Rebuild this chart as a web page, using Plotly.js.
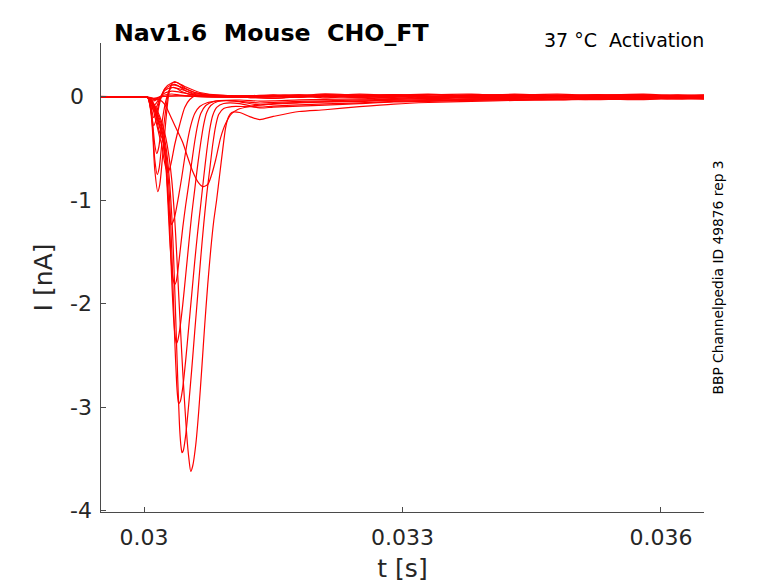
<!DOCTYPE html>
<html>
<head>
<meta charset="utf-8">
<script src="https://cdn.plot.ly/plotly-3.0.1.min.js"></script>
<style>
  html, body { margin: 0; padding: 0; background: #fff; }
  #plot { width: 778px; height: 583px; }
</style>
</head>
<body>
<div id="plot"></div>
<script>
// Sweeps: time in ms, current in nA
// shared tail times (the slow part after ~31.4 ms)
const TAIL_MS = [31.5, 31.8, 32.1, 32.5, 32.9, 33.3, 33.8, 34.3, 34.8, 35.3, 35.8, 36.2, 36.5];

// 1. sub-threshold sweeps
const f_t = [29.5, 29.75, 30.0, 30.043, 30.078, 30.112, 30.147, 30.2, 30.4, 30.8, 31.2];
const f1_i = [0.004, -0.003, 0.0, -0.003, -0.008, -0.015, -0.01, 0.003, 0.008, 0.0, 0.005];
const f1_tail = [0.015, -0.005, 0.012, 0.0, 0.018, -0.008, 0.01, 0.0, 0.014, -0.012, 0.006, 0.012, 0.0];
const f2_i = [-0.005, 0.003, -0.003, -0.005, -0.012, -0.024, -0.016, 0.0, 0.01, 0.005, -0.005];
const f2_tail = [-0.015, 0.005, -0.01, 0.01, -0.015, 0.005, -0.01, 0.01, -0.01, 0.005, -0.015, 0.0, 0.005];

// 2. sweeps with a small dip and an outward bump
const u_t = [29.5, 29.75, 30.0, 30.043, 30.078, 30.112, 30.147, 30.182, 30.24, 30.321, 30.414, 30.588, 30.878, 31.2];
const u1_i = [0.0, 0.003, 0.0, -0.005, -0.017, -0.04, -0.026, 0.0, 0.017, 0.027, 0.017, 0.003, -0.002, 0.005];
const u1_tail = [0.005, 0.015, 0.0, 0.012, 0.02, 0.0, 0.015, -0.005, 0.01, 0.018, 0.0, 0.008, 0.014];
const u2_i = [-0.003, 0.0, 0.0, -0.005, -0.036, -0.085, -0.055, -0.007, 0.036, 0.055, 0.046, 0.017, 0.003, 0.0];
const u2_tail = [0.0, 0.01, 0.018, 0.0, 0.008, 0.022, 0.004, 0.0, 0.015, 0.005, -0.008, 0.012, 0.0];
const u3_i = [0.002, -0.002, 0.0, -0.006, -0.065, -0.132, -0.094, -0.017, 0.061, 0.09, 0.075, 0.032, 0.008, 0.01];
const u3_tail = [0.012, 0.02, 0.005, 0.025, 0.01, 0.004, 0.018, 0.02, 0.004, 0.01, 0.018, 0.004, 0.012];
const u4_i = [0.0, 0.002, 0.0, -0.006, -0.084, -0.2, -0.142, -0.036, 0.071, 0.114, 0.099, 0.042, 0.013, 0.005];
const u4_tail = [0.014, 0.0, 0.02, 0.005, -0.006, 0.015, 0.025, 0.004, 0.016, 0.0, 0.01, 0.015, 0.004];
const u5_t = [29.5, 29.75, 30.0, 30.043, 30.078, 30.112, 30.147, 30.182, 30.24, 30.321, 30.379, 30.472, 30.646, 30.936, 31.2];
const u5_i = [0.002, 0.0, 0.0, -0.007, -0.123, -0.278, -0.2, -0.055, 0.08, 0.133, 0.138, 0.1, 0.042, 0.013, 0.01];
const u5_tail = [0.02, 0.012, 0.028, 0.015, 0.005, 0.02, 0.01, 0.025, 0.012, 0.02, 0.004, 0.015, 0.018];

// 3. sweeps with a deep early dip then outward bump
const v1_t = [29.5, 29.75, 30.0, 30.043, 30.078, 30.101, 30.124, 30.147, 30.17, 30.194, 30.228, 30.263, 30.298, 30.333, 30.379, 30.437, 30.53, 30.646, 30.82, 31.2];
const v1_i = [0.0, -0.003, 0.0, -0.007, -0.103, -0.268, -0.461, -0.548, -0.49, -0.336, -0.142, -0.007, 0.071, 0.09, 0.08, 0.051, 0.022, 0.008, -0.002, 0.005];
const v1_tail = [0.0, 0.012, 0.004, 0.018, 0.006, -0.006, 0.02, 0.006, 0.0, 0.014, 0.02, 0.0, 0.008];
const v2_t = [29.5, 29.75, 30.0, 30.043, 30.078, 30.101, 30.124, 30.153, 30.176, 30.205, 30.24, 30.275, 30.31, 30.344, 30.391, 30.46, 30.553, 30.704, 30.878, 31.2];
const v2_i = [0.003, 0.0, 0.0, -0.007, -0.123, -0.316, -0.606, -0.751, -0.684, -0.461, -0.2, 0.003, 0.1, 0.119, 0.109, 0.071, 0.032, 0.008, -0.002, 0.008];
const v2_tail = [0.01, 0.0, 0.018, 0.004, 0.022, 0.006, 0.0, 0.014, 0.025, 0.006, 0.012, 0.018, 0.004];
const v3_t = [29.5, 29.75, 30.0, 30.043, 30.078, 30.101, 30.124, 30.159, 30.182, 30.217, 30.252, 30.286, 30.321, 30.356, 30.402, 30.484, 30.588, 30.762, 30.994, 31.2];
const v3_i = [-0.002, 0.002, 0.0, -0.007, -0.142, -0.365, -0.703, -0.916, -0.848, -0.558, -0.239, 0.022, 0.128, 0.148, 0.128, 0.08, 0.042, 0.013, -0.002, 0.0];
const v3_tail = [0.004, 0.02, 0.006, -0.006, 0.014, 0.025, 0.004, 0.018, 0.004, 0.016, 0.026, 0.008, 0.014];

// 4. medium sweep, peak ~ -0.73 nA
const m_t = [29.5, 29.75, 30.0, 30.043, 30.078, 30.112, 30.147, 30.182, 30.205, 30.228, 30.252, 30.278, 30.31, 30.356, 30.414, 30.472, 30.53, 30.6, 30.704, 30.878, 31.2];
const m_i = [0.0, 0.002, 0.0, -0.007, -0.045, -0.142, -0.268, -0.394, -0.461, -0.587, -0.684, -0.732, -0.655, -0.461, -0.268, -0.103, -0.026, 0.013, 0.013, 0.003, -0.005];
const m_tail = [-0.015, 0.0, 0.008, -0.008, 0.012, 0.0, -0.008, 0.012, 0.005, -0.004, 0.012, -0.008, 0.005];

// 5. threshold sweep, late broad peak
const t1_t = [29.5, 29.75, 30.0, 30.078, 30.124, 30.182, 30.24, 30.298, 30.368, 30.449, 30.507, 30.565, 30.623, 30.681, 30.739, 30.785, 30.832, 30.889, 30.947, 31.017, 31.087, 31.226];
const t1_i = [0.002, -0.002, -0.002, -0.015, -0.025, -0.03, -0.074, -0.171, -0.297, -0.442, -0.587, -0.722, -0.819, -0.867, -0.848, -0.751, -0.606, -0.394, -0.258, -0.162, -0.123, -0.094];
const t1_tail = [-0.065, -0.055, -0.05, -0.04, -0.032, -0.028, -0.02, -0.018, -0.024, -0.01, -0.018, -0.005, -0.012];

// 6. large sweeps
const d1_t = [29.5, 29.75, 30.0, 30.043, 30.078, 30.112, 30.147, 30.17, 30.194, 30.217, 30.24, 30.263, 30.286, 30.304, 30.318, 30.333, 30.356, 30.379, 30.402, 30.437, 30.472, 30.507, 30.542, 30.588, 30.646, 30.739, 30.878, 31.11, 31.342];
const d1_i = [-0.002, 0.002, 0.0, -0.007, -0.036, -0.103, -0.22, -0.316, -0.374, -0.413, -0.529, -0.751, -1.041, -1.186, -1.235, -1.215, -1.157, -1.061, -0.955, -0.78, -0.587, -0.413, -0.278, -0.162, -0.094, -0.055, -0.036, -0.031, -0.041];
const d1_tail = [-0.04, -0.03, -0.025, -0.02, -0.01, -0.015, 0.0, -0.012, 0.005, -0.008, 0.0, 0.005, -0.008];

const d2_t = [29.5, 29.75, 30.0, 30.043, 30.078, 30.112, 30.147, 30.182, 30.205, 30.228, 30.252, 30.275, 30.298, 30.321, 30.339, 30.356, 30.373, 30.391, 30.414, 30.449, 30.484, 30.518, 30.553, 30.588, 30.623, 30.658, 30.716, 30.808, 30.994, 31.342];
const d2_i = [0.002, -0.002, 0.0, -0.007, -0.036, -0.103, -0.2, -0.297, -0.355, -0.461, -0.655, -0.993, -1.38, -1.65, -1.767, -1.815, -1.786, -1.69, -1.525, -1.264, -1.041, -0.848, -0.635, -0.432, -0.268, -0.162, -0.084, -0.045, -0.036, -0.06];
const d2_tail = [-0.055, -0.045, -0.04, -0.03, -0.025, -0.015, -0.022, -0.005, -0.012, 0.0, -0.012, -0.005, -0.002];

const d3_t = [29.5, 29.75, 30.0, 30.043, 30.078, 30.112, 30.147, 30.182, 30.217, 30.252, 30.275, 30.298, 30.321, 30.344, 30.362, 30.376, 30.391, 30.414, 30.449, 30.484, 30.518, 30.553, 30.588, 30.623, 30.658, 30.692, 30.727, 30.774, 30.855, 31.052, 31.342];
const d3_i = [0.0, 0.002, 0.0, -0.007, -0.036, -0.094, -0.181, -0.278, -0.394, -0.606, -0.897, -1.283, -1.767, -2.153, -2.327, -2.386, -2.356, -2.25, -2.008, -1.718, -1.429, -1.138, -0.897, -0.655, -0.442, -0.268, -0.152, -0.084, -0.045, -0.041, -0.079];
const d3_tail = [-0.07, -0.06, -0.05, -0.045, -0.032, -0.035, -0.022, -0.025, -0.01, -0.018, -0.005, -0.012, -0.018];

const d4_t = [29.5, 29.75, 30.0, 30.043, 30.078, 30.112, 30.147, 30.182, 30.217, 30.252, 30.286, 30.31, 30.333, 30.356, 30.379, 30.391, 30.402, 30.42, 30.449, 30.484, 30.518, 30.553, 30.588, 30.623, 30.658, 30.692, 30.727, 30.762, 30.797, 30.843, 30.924, 31.11, 31.342];
const d4_i = [-0.002, 0.0, 0.0, -0.007, -0.036, -0.084, -0.162, -0.249, -0.355, -0.529, -0.848, -1.235, -1.767, -2.347, -2.782, -2.908, -2.966, -2.946, -2.811, -2.54, -2.231, -1.912, -1.593, -1.303, -1.041, -0.78, -0.529, -0.316, -0.181, -0.103, -0.065, -0.065, -0.108];
const d4_tail = [-0.1, -0.09, -0.08, -0.065, -0.05, -0.045, -0.035, -0.032, -0.022, -0.028, -0.015, -0.022, -0.012];

const d5_t = [29.5, 29.75, 30.0, 30.043, 30.078, 30.112, 30.147, 30.182, 30.217, 30.252, 30.286, 30.321, 30.344, 30.368, 30.391, 30.414, 30.429, 30.441, 30.455, 30.484, 30.518, 30.553, 30.588, 30.623, 30.658, 30.692, 30.727, 30.762, 30.797, 30.832, 30.866, 30.924, 31.017, 31.168, 31.342];
const d5_i = [0.002, 0.0, 0.0, -0.007, -0.031, -0.074, -0.142, -0.22, -0.316, -0.471, -0.722, -1.138, -1.574, -2.153, -2.734, -3.218, -3.382, -3.44, -3.421, -3.266, -2.976, -2.637, -2.27, -1.912, -1.554, -1.235, -0.945, -0.703, -0.461, -0.278, -0.171, -0.113, -0.094, -0.094, -0.099];
const d5_tail = [-0.09, -0.078, -0.068, -0.058, -0.045, -0.038, -0.03, -0.022, -0.028, -0.015, -0.022, -0.01, -0.018];

const d6_t = [29.5, 29.75, 30.0, 30.043, 30.078, 30.112, 30.147, 30.182, 30.217, 30.252, 30.286, 30.321, 30.356, 30.379, 30.402, 30.426, 30.449, 30.472, 30.495, 30.518, 30.542, 30.565, 30.6, 30.634, 30.669, 30.704, 30.739, 30.774, 30.808, 30.843, 30.878, 30.913, 30.947, 30.982, 31.017, 31.11, 31.226, 31.342];
const d6_i = [-0.002, 0.002, 0.0, -0.007, -0.026, -0.065, -0.123, -0.191, -0.278, -0.394, -0.558, -0.8, -1.186, -1.525, -1.912, -2.298, -2.657, -2.976, -3.266, -3.479, -3.621, -3.566, -3.363, -3.044, -2.637, -2.205, -1.815, -1.477, -1.205, -0.993, -0.751, -0.51, -0.297, -0.191, -0.152, -0.152, -0.191, -0.22];
const d6_tail = [-0.19, -0.142, -0.125, -0.095, -0.07, -0.055, -0.045, -0.035, -0.03, -0.022, -0.028, -0.015, -0.022];

const SWEEPS = [
  [f_t, f1_i, f1_tail], [f_t, f2_i, f2_tail],
  [u_t, u1_i, u1_tail], [u_t, u2_i, u2_tail], [u_t, u3_i, u3_tail], [u_t, u4_i, u4_tail],
  [u5_t, u5_i, u5_tail],
  [v1_t, v1_i, v1_tail], [v2_t, v2_i, v2_tail], [v3_t, v3_i, v3_tail],
  [m_t, m_i, m_tail], [t1_t, t1_i, t1_tail],
  [d1_t, d1_i, d1_tail], [d2_t, d2_i, d2_tail], [d3_t, d3_i, d3_tail],
  [d4_t, d4_i, d4_tail], [d5_t, d5_i, d5_tail], [d6_t, d6_i, d6_tail]
];

const X_TICKS = [0.03, 0.033, 0.036];
const X_LABELS = ['0.03', '0.033', '0.036'];
const Y_TICKS = [-4, -3, -2, -1, 0];
const Y_LABELS = ['-4', '-3', '-2', '-1', '0'];

const traces = SWEEPS.map(([t, i, tail]) => ({
  type: 'scatter',
  mode: 'lines',
  x: t.concat(TAIL_MS).map(ms => ms / 1000),
  y: i.concat(tail),
  line: { color: '#ff0000', width: 1.2, shape: 'spline', smoothing: 0.7 },
  hoverinfo: 'skip',
  showlegend: false
}));

const FONT = 'DejaVu Sans, sans-serif';
const axisColor = '#4a4a4a';
const textColor = '#262626';

// y tick labels sit left-aligned in the reference, so they are drawn as annotations
const yLabelNotes = Y_TICKS.map((v, k) => ({
  xref: 'paper', yref: 'y', x: -0.055, y: v,
  xanchor: 'left', yanchor: 'middle', showarrow: false,
  text: Y_LABELS[k],
  font: { size: 22, family: FONT, color: textColor }
}));

const layout = {
  width: 778,
  height: 583,
  margin: { l: 101, r: 74, t: 43, b: 71 },
  paper_bgcolor: '#ffffff',
  plot_bgcolor: '#ffffff',
  font: { family: FONT, color: textColor },
  xaxis: {
    range: [0.0295, 0.0365],
    tickvals: X_TICKS,
    ticktext: X_LABELS,
    ticks: 'inside',
    ticklen: 5,
    tickcolor: axisColor,
    showline: true,
    linecolor: axisColor,
    linewidth: 1,
    showgrid: false,
    zeroline: false,
    tickfont: { size: 22, family: FONT, color: textColor },
    ticklabelstandoff: 6,
    title: { text: 't [s]', font: { size: 25, family: FONT, color: textColor }, standoff: 10 }
  },
  yaxis: {
    range: [-4.013, 0.52],
    tickvals: Y_TICKS,
    ticks: 'inside',
    ticklen: 5,
    tickcolor: axisColor,
    showline: true,
    linecolor: axisColor,
    linewidth: 1,
    showgrid: false,
    zeroline: false,
    showticklabels: false,
    title: { text: 'I [nA]', font: { size: 25, family: FONT, color: textColor }, standoff: 40 }
  },
  annotations: yLabelNotes.concat([
    {
      xref: 'paper', yref: 'paper', x: 0.018, y: 1.0213,
      xanchor: 'left', yanchor: 'middle', showarrow: false,
      text: '<b>Nav1.6  Mouse  CHO_FT</b>',
      font: { size: 23.7, family: FONT, color: '#000000' }
    },
    {
      xref: 'paper', yref: 'paper', x: 1.004, y: 1.0064,
      xanchor: 'right', yanchor: 'middle', showarrow: false,
      text: '37 °C  Activation',
      font: { size: 19, family: FONT, color: '#000000' }
    },
    {
      xref: 'paper', yref: 'paper', x: 1.0216, y: 0.5,
      xanchor: 'center', yanchor: 'middle', showarrow: false,
      textangle: -90,
      text: 'BBP Channelpedia ID 49876 rep 3',
      font: { size: 13.8, family: FONT, color: '#000000' }
    }
  ])
};

Plotly.newPlot('plot', traces, layout, { staticPlot: true, displayModeBar: false });
</script>
</body>
</html>
